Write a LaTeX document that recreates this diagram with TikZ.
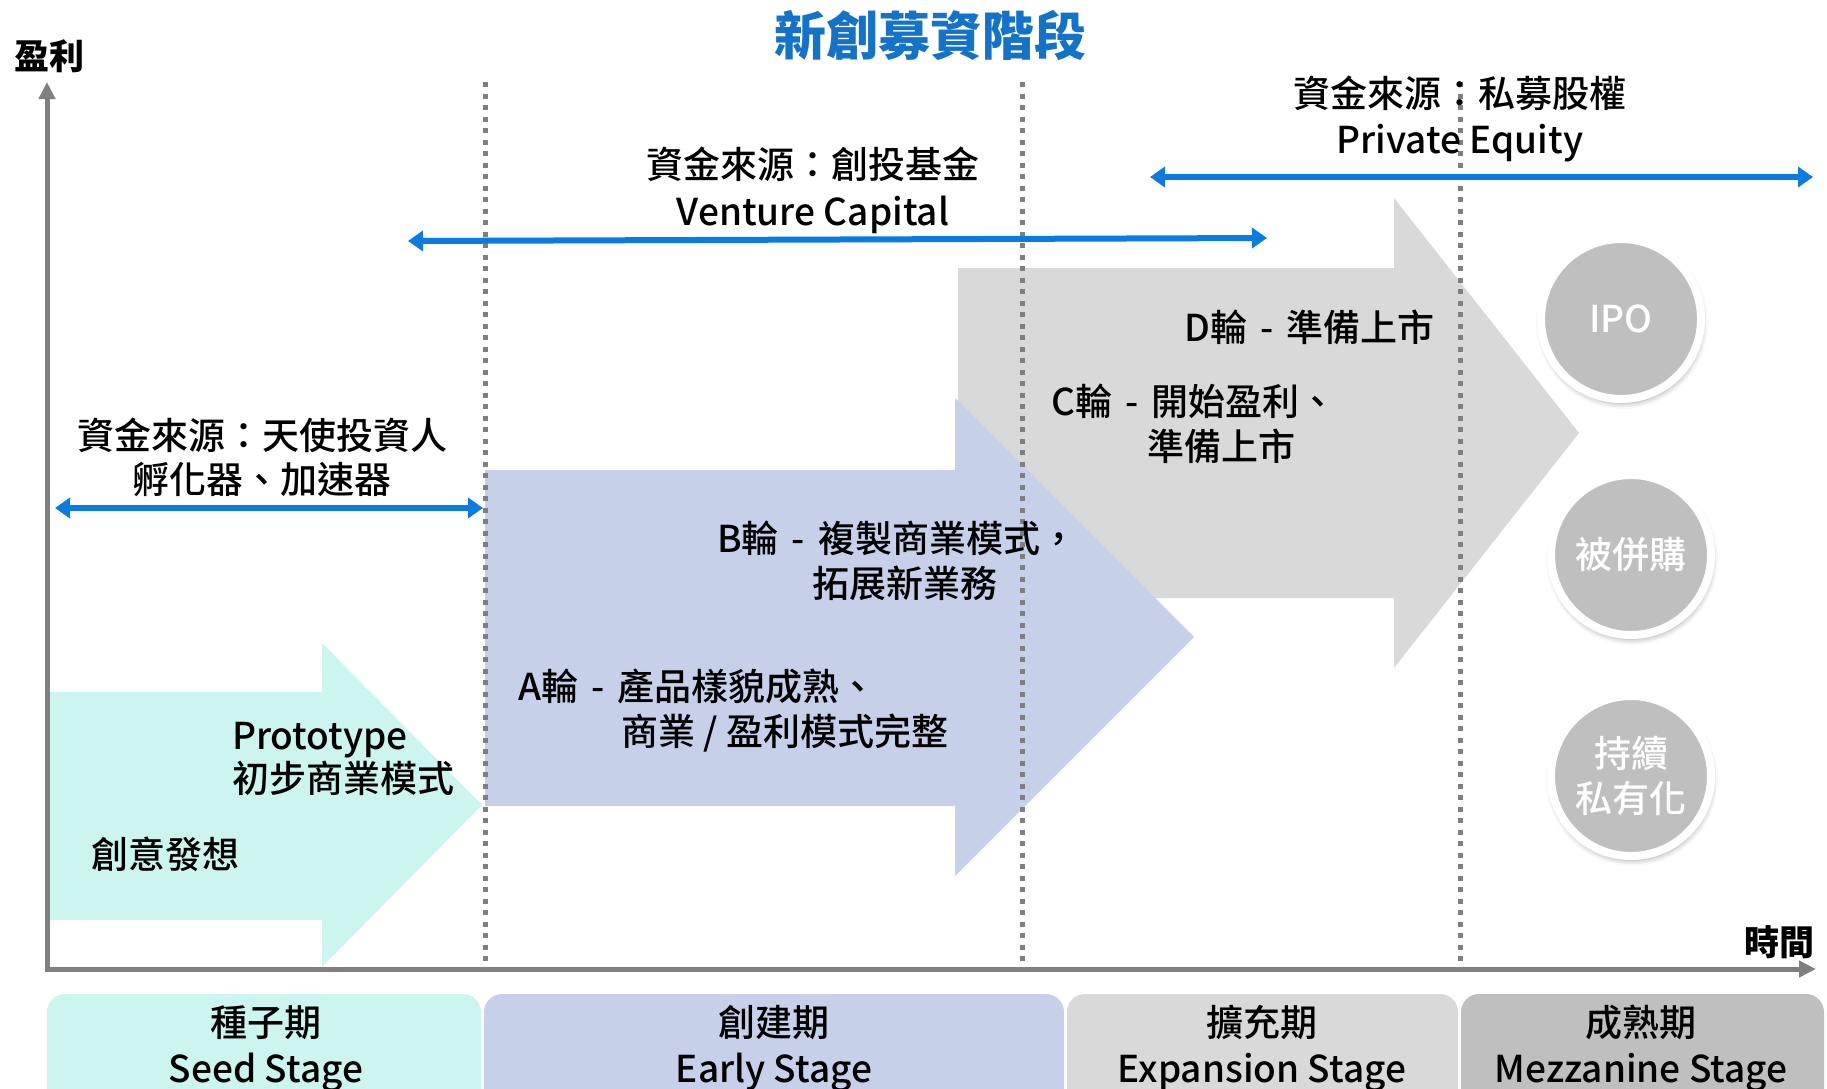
\documentclass[tikz,border=0pt]{standalone}
\usepackage{fontspec}
\setmainfont{Noto Sans CJK TC}
\newfontfamily\medfont{Noto Sans CJK TC Medium}
\usetikzlibrary{arrows.meta,shadows.blur}
\definecolor{seedc}{HTML}{CCF5EF}
\definecolor{earlyc}{HTML}{C6D0E9}
\definecolor{expc}{HTML}{D9D9D9}
\definecolor{mezc}{HTML}{BFBFBF}
\definecolor{axisc}{HTML}{7F7F7F}
\definecolor{fundc}{HTML}{0A7BE0}
\definecolor{titlec}{HTML}{1273C8}
\newcommand{\dsh}{\hspace{13pt}-\hspace{13pt}}
\begin{document}
\begin{tikzpicture}[x=1pt,y=-1pt,
  lbl/.style={font=\fontsize{37}{44}\selectfont\medfont, inner sep=0pt, anchor=base west},
  lblc/.style={font=\fontsize{37}{44}\selectfont\medfont, inner sep=0pt, anchor=base},
  lblr/.style={font=\fontsize{37}{44}\selectfont\medfont, inner sep=0pt, anchor=base west},
  stagetxt/.style={font=\fontsize{37}{44}\selectfont\medfont, inner sep=0pt, anchor=base},
  circ/.style={circle, fill=mezc, draw=white, line width=8pt, minimum size=160pt, inner sep=0pt,
    text=white, font=\fontsize{37}{45}\selectfont\medfont, align=center,
    blur shadow={shadow xshift=1pt, shadow yshift=-4pt, shadow blur radius=6pt, shadow opacity=40}},
  fundarrow/.style={draw=fundc, line width=6pt, {Triangle[length=15pt,width=20pt]}-{Triangle[length=15pt,width=20pt]}},
  divider/.style={draw=axisc, line width=5pt, dash pattern=on 5pt off 6.5pt},
  axisline/.style={draw=axisc, line width=5pt, {Triangle[length=17pt,width=16pt]}-{Triangle[length=17pt,width=16pt]}}
]
\useasboundingbox (0,0) rectangle (1827,1088);

% big arrows
\fill[expc] (958,268) -- (1394,268) -- (1394,198) -- (1579,433) -- (1394,668) -- (1394,598) -- (958,598) -- cycle;
\fill[earlyc] (485,470) -- (955,470) -- (955,398) -- (1194,637) -- (955,876) -- (955,806) -- (485,806) -- cycle;
\fill[seedc] (49,692) -- (322,692) -- (322,643) -- (482,805) -- (322,967) -- (322,920) -- (49,920) -- cycle;

% dashed dividers
\coordinate (d1t) at (485,82); \coordinate (d1b) at (485,961);
\coordinate (d2t) at (1022,82); \coordinate (d2b) at (1022,961);
\coordinate (d3t) at (1460,82); \coordinate (d3b) at (1460,961);
\draw[divider] (d1t) -- (d1b);
\draw[divider] (d2t) -- (d2b);
\draw[divider] (d3t) -- (d3b);

% axes
\coordinate (ytop) at (47,82);
\coordinate (orig) at (47,969);
\coordinate (xend) at (1816,969);
\draw[axisline] (ytop) -- (orig) -- (xend);

% funding arrows
\coordinate (peL) at (1150,177); \coordinate (peR) at (1813,177);
\coordinate (vcL) at (408,241); \coordinate (vcR) at (1267,238);
\coordinate (anL) at (55,508); \coordinate (anR) at (483,508);
\draw[fundarrow] (peL) -- (peR);
\draw[fundarrow] (vcL) -- (vcR);
\draw[fundarrow] (anL) -- (anR);

% title and axis labels
\node[font=\fontsize{52}{60}\selectfont\bfseries, text=titlec, inner sep=0pt, anchor=base] (title) at (930,55) {新創募資階段};
\node[font=\fontsize{35}{42}\selectfont\bfseries, inner sep=0pt, anchor=base west] (ylab) at (14,69) {盈利};
\node[font=\fontsize{35}{42}\selectfont\bfseries, inner sep=0pt, anchor=base west] (xlab) at (1744,955) {時間};

% funding labels
\node[lblc] (pe1) at (1460,107) {資金來源：私募股權};
\node[lblc] (pe2) at (1460,153) {Private Equity};
\node[lblc] (vc1) at (813,178) {資金來源：創投基金};
\node[lblc] (vc2) at (813,225) {Venture Capital};
\node[lblc] (an1) at (262,449) {資金來源：天使投資人};
\node[lblc] (an2) at (262,493) {孵化器、加速器};

% round labels
\node[lbl] (d1) at (1184,341) {D輪\dsh 準備上市};
\node[lbl] (c1) at (1051,415) {C輪\dsh 開始盈利、};
\node[lbl] (c2) at (1147,460) {準備上市};
\node[lbl] (b1) at (717,552) {B輪\dsh 複製商業模式，};
\node[lbl] (b2) at (812,597) {拓展新業務};
\node[lbl] (a1) at (518,700) {A輪\dsh 產品樣貌成熟、};
\node[lbl] (a2) at (621,745) {商業 / 盈利模式完整};
\node[lblr] (p1) at (232,749) {Prototype};
\node[lblr] (p2) at (232,792) {初步商業模式};
\node[lbl] (idea) at (91,868) {創意發想};

% exit circles
\node[circ] (ipo) at (1621,319) {IPO};
\node[circ] (ma) at (1631,555) {被併購};
\node[circ] (priv) at (1631,776) {持續\\私有化};

% stage boxes
\fill[seedc, rounded corners=18pt] (47,1130) -- (47,994) -- (481,994) -- (481,1130) -- cycle;
\fill[earlyc, rounded corners=18pt] (484,1130) -- (484,994) -- (1064,994) -- (1064,1130) -- cycle;
\fill[expc, rounded corners=18pt] (1067,1130) -- (1067,994) -- (1458,994) -- (1458,1130) -- cycle;
\fill[mezc, rounded corners=18pt] (1461,1130) -- (1461,994) -- (1824,994) -- (1824,1130) -- cycle;
\node[stagetxt] (s1a) at (266,1036) {種子期};
\node[stagetxt] (s1b) at (266,1082) {Seed Stage};
\node[stagetxt] (s2a) at (774,1036) {創建期};
\node[stagetxt] (s2b) at (774,1082) {Early Stage};
\node[stagetxt] (s3a) at (1262,1036) {擴充期};
\node[stagetxt] (s3b) at (1262,1082) {Expansion Stage};
\node[stagetxt] (s4a) at (1641,1036) {成熟期};
\node[stagetxt] (s4b) at (1641,1082) {Mezzanine Stage};
\end{tikzpicture}
\end{document}
